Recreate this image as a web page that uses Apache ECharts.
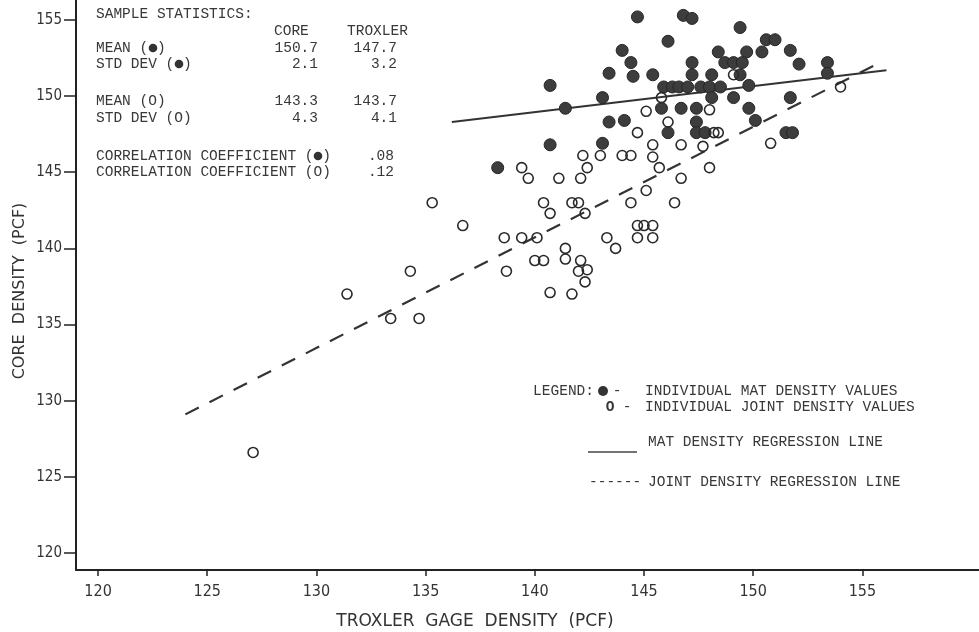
<!DOCTYPE html>
<html>
<head>
<meta charset="utf-8">
<title>Core density vs Troxler gage density</title>
<script src="https://cdn.jsdelivr.net/npm/echarts@6.0.0/dist/echarts.min.js"></script>
<style>
  html, body { margin: 0; padding: 0; background: #fff; }
  #chart { width: 979px; height: 632px; }
</style>
</head>
<body>
<div id="chart"></div>
<script>
// mat density values (filled circles)
const matTroxler = [144.7, 146.8, 147.2, 146.1, 149.4, 150.6, 151.0, 144.0, 148.4, 149.7,
  150.4, 151.7, 144.4, 147.2, 148.7, 149.1, 149.5, 152.1, 153.4, 143.4,
  144.5, 145.4, 147.2, 148.1, 149.4, 153.4, 140.7, 145.9, 146.3, 146.6,
  147.0, 147.6, 148.0, 148.5, 149.8, 143.1, 148.1, 149.1, 151.7, 141.4,
  145.8, 146.7, 147.4, 149.8, 143.4, 144.1, 147.4, 150.1, 146.1, 147.4,
  147.8, 151.5, 151.8, 140.7, 143.1, 138.3];
const matCore = [155.2, 155.3, 155.1, 153.6, 154.5, 153.7, 153.7, 153.0, 152.9, 152.9,
  152.9, 153.0, 152.2, 152.2, 152.2, 152.2, 152.2, 152.1, 152.2, 151.5,
  151.3, 151.4, 151.4, 151.4, 151.4, 151.5, 150.7, 150.6, 150.6, 150.6,
  150.6, 150.6, 150.6, 150.6, 150.7, 149.9, 149.9, 149.9, 149.9, 149.2,
  149.2, 149.2, 149.2, 149.2, 148.3, 148.4, 148.3, 148.4, 147.6, 147.6,
  147.6, 147.6, 147.6, 146.8, 146.9, 145.3];

// joint density values (open circles)
const jointTroxler = [154.0, 149.1, 145.8, 145.1, 148.0, 146.1, 144.7, 148.2, 148.4, 145.4,
  146.7, 147.7, 150.8, 142.2, 143.0, 144.0, 144.4, 145.4, 139.4, 142.4,
  145.7, 148.0, 139.7, 141.1, 142.1, 146.7, 145.1, 140.4, 141.7, 142.0,
  144.4, 146.4, 135.3, 140.7, 142.3, 136.7, 144.7, 145.0, 145.4, 138.6,
  139.4, 140.1, 143.3, 144.7, 145.4, 143.7, 141.4, 140.0, 140.4, 141.4,
  142.1, 134.3, 138.7, 142.0, 142.4, 142.3, 131.4, 140.7, 141.7, 133.4,
  134.7, 127.1];
const jointCore = [150.6, 151.4, 149.9, 149.0, 149.1, 148.3, 147.6, 147.6, 147.6, 146.8,
  146.8, 146.7, 146.9, 146.1, 146.1, 146.1, 146.1, 146.0, 145.3, 145.3,
  145.3, 145.3, 144.6, 144.6, 144.6, 144.6, 143.8, 143.0, 143.0, 143.0,
  143.0, 143.0, 143.0, 142.3, 142.3, 141.5, 141.5, 141.5, 141.5, 140.7,
  140.7, 140.7, 140.7, 140.7, 140.7, 140.0, 140.0, 139.2, 139.2, 139.3,
  139.2, 138.5, 138.5, 138.5, 138.6, 137.8, 137.0, 137.1, 137.0, 135.4,
  135.4, 126.6];

// regression line end points
const matLineX = [136.2, 156.1];
const matLineY = [148.3, 151.7];
const jointLineX = [124.0, 155.8];
const jointLineY = [129.1, 152.2];

const xTicks = [120, 125, 130, 135, 140, 145, 150, 155];
const yTicks = [120, 125, 130, 135, 140, 145, 150, 155];

const zip = (xs, ys) => xs.map((x, i) => [x, ys[i]]);

const mono = "'Liberation Mono', 'DejaVu Sans Mono', monospace";
const letter = "'DejaVu Sans Condensed', 'Liberation Sans Narrow', 'Liberation Sans', sans-serif";
const lettering = "'DejaVu Sans', 'Liberation Sans', sans-serif";

// typewriter text helper
function tw(text, x, y, align, bold) {
  return {
    type: 'text', x: x, y: y,
    style: {
      text: text, font: (bold ? 'bold ' : '') + '14.5px ' + mono, fill: '#383838',
      textAlign: align || 'left', textVerticalAlign: 'middle'
    }
  };
}
// filled dot glyph used inside the typed text
function dot(x, y, r) {
  return { type: 'circle', shape: { cx: x, cy: y, r: r || 4.3 }, style: { fill: '#333' } };
}

const chart = echarts.init(document.getElementById('chart'));

const option = {
  backgroundColor: '#fff',
  animation: false,
  grid: { left: 76, right: 0, top: 0, bottom: 62, containLabel: false, outerBoundsMode: 'none' },
  xAxis: {
    type: 'value',
    min: 118.99,
    max: 160.34,
    splitLine: { show: false },
    axisLine: { show: true, onZero: false, lineStyle: { color: '#222', width: 2 } },
    axisTick: { show: true, length: 6, customValues: xTicks, lineStyle: { color: '#222', width: 1.5 } },
    axisLabel: { customValues: xTicks, margin: 14, fontFamily: letter, fontSize: 16, color: '#333' }
  },
  yAxis: {
    type: 'value',
    min: 118.88,
    max: 156.31,
    splitLine: { show: false },
    axisLine: { show: true, onZero: false, lineStyle: { color: '#222', width: 2 } },
    axisTick: { show: true, length: 12, customValues: yTicks, lineStyle: { color: '#222', width: 1.5 } },
    axisLabel: { customValues: yTicks, margin: 14, fontFamily: letter, fontSize: 15, color: '#333' }
  },
  series: [
    {
      name: 'Mat density regression line',
      type: 'line',
      data: zip(matLineX, matLineY),
      symbol: 'none',
      lineStyle: { color: '#333', width: 2 },
      z: 1
    },
    {
      name: 'Joint density regression line',
      type: 'line',
      data: zip(jointLineX, jointLineY),
      symbol: 'none',
      lineStyle: { color: '#333', width: 2.2, type: [15, 12] },
      z: 1
    },
    {
      name: 'Individual mat density values',
      type: 'scatter',
      data: zip(matTroxler, matCore),
      symbol: 'circle',
      symbolSize: 12,
      itemStyle: { color: '#3d3d3d', borderColor: '#262626', borderWidth: 1, opacity: 1 },
      z: 3
    },
    {
      name: 'Individual joint density values',
      type: 'scatter',
      data: zip(jointTroxler, jointCore),
      symbol: 'circle',
      symbolSize: 10,
      itemStyle: { color: 'rgba(255,255,255,0)', borderColor: '#2a2a2a', borderWidth: 1.6, opacity: 1 },
      z: 4
    }
  ],
  graphic: [
    // axis titles
    {
      type: 'text', x: 475, y: 622,
      style: { text: 'TROXLER  GAGE  DENSITY  (PCF)', font: '17px ' + lettering, fill: '#333',
        textAlign: 'center', textVerticalAlign: 'middle' }
    },
    {
      type: 'text', x: 20, y: 291, rotation: Math.PI / 2,
      style: { text: 'CORE  DENSITY  (PCF)', font: '16px ' + lettering, fill: '#333',
        textAlign: 'center', textVerticalAlign: 'middle' }
    },
    // sample statistics
    tw('SAMPLE STATISTICS:', 96, 14),
    tw('CORE', 274, 31),
    tw('TROXLER', 347, 31),
    tw('MEAN ( )', 96, 48),
    dot(153, 48),
    tw('150.7', 318, 48, 'right'),
    tw('147.7', 397, 48, 'right'),
    tw('STD DEV ( )', 96, 64),
    dot(179, 64),
    tw('2.1', 318, 64, 'right'),
    tw('3.2', 397, 64, 'right'),
    tw('MEAN (O)', 96, 101),
    tw('143.3', 318, 101, 'right'),
    tw('143.7', 397, 101, 'right'),
    tw('STD DEV (O)', 96, 118),
    tw('4.3', 318, 118, 'right'),
    tw('4.1', 397, 118, 'right'),
    tw('CORRELATION COEFFICIENT ( )', 96, 156),
    dot(318, 156),
    tw('.08', 394, 156, 'right'),
    tw('CORRELATION COEFFICIENT (O)', 96, 172),
    tw('.12', 394, 172, 'right'),
    // legend
    tw('LEGEND:', 594, 391, 'right'),
    dot(603, 391, 5),
    tw('-', 617, 391, 'center'),
    tw('INDIVIDUAL MAT DENSITY VALUES', 645, 391),
    tw('O', 610, 407, 'center', true),
    tw('-', 627, 407, 'center'),
    tw('INDIVIDUAL JOINT DENSITY VALUES', 645, 407),
    {
      type: 'line',
      shape: { x1: 588, y1: 452, x2: 637, y2: 452 },
      style: { stroke: '#444', lineWidth: 1.5 }
    },
    tw('MAT DENSITY REGRESSION LINE', 648, 442),
    tw('------', 589, 482),
    tw('JOINT DENSITY REGRESSION LINE', 648, 482)
  ]
};

chart.setOption(option);
</script>
</body>
</html>
